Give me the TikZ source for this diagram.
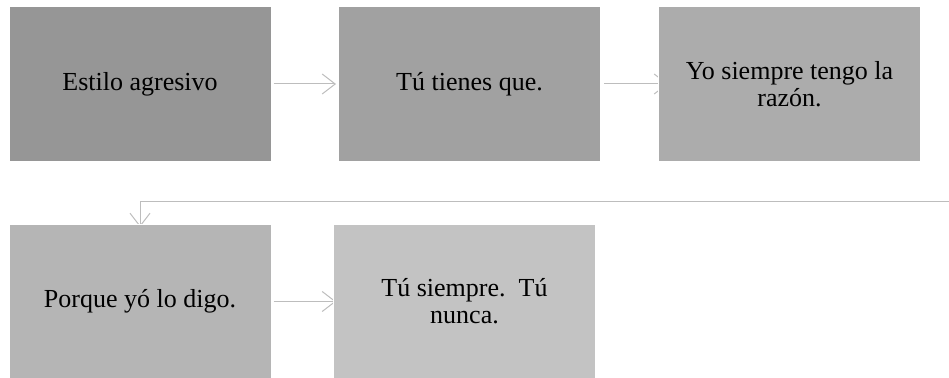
\documentclass[tikz,border=0pt]{standalone}
\usepackage{fontspec}
\setmainfont{Liberation Serif}
\usetikzlibrary{arrows.meta,backgrounds}
\definecolor{cA}{HTML}{969696}
\definecolor{cB}{HTML}{A1A1A1}
\definecolor{cC}{HTML}{ACACAC}
\definecolor{cD}{HTML}{B5B5B5}
\definecolor{cE}{HTML}{C3C3C3}
\definecolor{lnk}{HTML}{BDBDBD}
\tikzset{
  stepbox/.style={draw=white, line width=1pt, minimum width=262pt, minimum height=154pt,
    inner sep=0pt, align=center, font=\fontsize{26}{27}\selectfont},
  link/.style={draw=lnk, line width=1pt, -{Straight Barb[length=13pt,width=20pt,line width=1pt]}}
}
\begin{document}
\begin{tikzpicture}[x=1pt,y=-1pt]
\useasboundingbox (0,0) rectangle (949,377);
\node[stepbox, fill=cA] (b1) at (140,84) {Estilo agresivo};
\node[stepbox, fill=cB] (b2) at (469.5,84) {Tú tienes que.};
\node[stepbox, fill=cC] (b3) at (789.5,84) {Yo siempre tengo la\\razón.};
\node[stepbox, fill=cD] (b4) at (140,301.5) {Porque yó lo digo.};
\node[stepbox, fill=cE] (b5) at (464.5,301.5) {Tú siempre.\ \ Tú\\nunca.};
\coordinate (edge) at (949,201);
\begin{scope}[on background layer]
\draw[link, shorten <=2pt, shorten >=2pt] (b1.east) -- (b2.west);
\draw[link, shorten <=3pt, shorten >=-10pt] (b2.east) -- (b3.west);
\draw[link, shorten >=-3pt] (edge) -| (b4.north);
\draw[link, shorten <=2pt, shorten >=-3pt] (b4.east) -- (b5.west);
\end{scope}
\end{tikzpicture}
\end{document}
